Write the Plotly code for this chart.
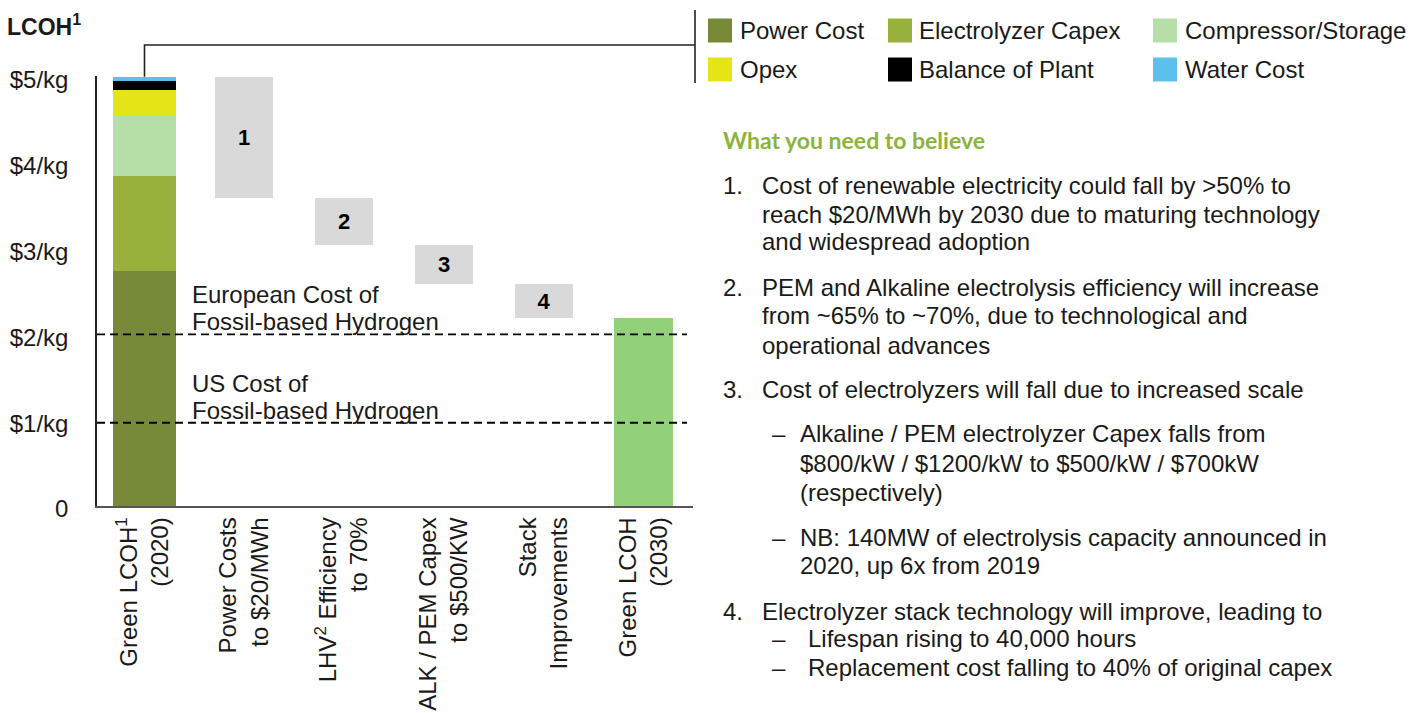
import numpy as np
import plotly.graph_objects as go

# page body adds an 8px margin, so the figure is shrunk by that much
OFF = 8
W, H = 1421 - OFF, 713 - OFF
FONT = "Arial, Liberation Sans, sans-serif"
INK = "#1a1a1a"

# 2020 green LCOH build-up ($/kg)
components = ["Power Cost", "Electrolyzer Capex", "Compressor/Storage",
              "Opex", "Balance of Plant", "Water Cost"]
component_values = [2.74, 1.11, 0.71, 0.29, 0.10, 0.05]
component_colors = ["#778A3A", "#98B13D", "#B6DFA7", "#E4E417", "#000000", "#5BC0EB"]

# waterfall steps towards 2030
step_labels = ["1", "2", "3", "4"]
step_drops = [1.41, 0.55, 0.45, 0.40]

categories = [
    "Green LCOH<sup>1</sup><br>(2020)",
    "Power Costs<br>to $20/MWh",
    "LHV<sup>2</sup> Efficiency<br>to 70%",
    "ALK / PEM Capex<br>to $500/KW",
    "Stack<br>Improvements",
    "Green LCOH<br>(2030)",
]

y_tick_vals = [0, 1, 2, 3, 4, 5]
y_tick_text = ["0", "$1/kg", "$2/kg", "$3/kg", "$4/kg", "$5/kg"]

# fossil hydrogen benchmarks ($/kg)
ref_costs = [2.0, 0.97]
ref_labels = [["European Cost of", "Fossil-based Hydrogen"], ["US Cost of", "Fossil-based Hydrogen"]]

heading = "What you need to believe"
believe_lines = [
    ("num", 185, "1."), ("txt", 185, "Cost of renewable electricity could fall by >50% to"),
    ("txt", 214, "reach $20/MWh by 2030 due to maturing technology"),
    ("txt", 242, "and widespread adoption"),
    ("num", 287, "2."), ("txt", 287, "PEM and Alkaline electrolysis efficiency will increase"),
    ("txt", 315, "from ~65% to ~70%, due to technological and"),
    ("txt", 345, "operational advances"),
    ("num", 389, "3."), ("txt", 389, "Cost of electrolyzers will fall due to increased scale"),
    ("dash", 433, "–"), ("sub", 433, "Alkaline / PEM electrolyzer Capex falls from"),
    ("sub", 463, "$800/kW / $1200/kW to $500/kW / $700kW"),
    ("sub", 492, "(respectively)"),
    ("dash", 537, "–"), ("sub", 537, "NB: 140MW of electrolysis capacity announced in"),
    ("sub", 565, "2020, up 6x from 2019"),
    ("num", 611, "4."), ("txt", 611, "Electrolyzer stack technology will improve, leading to"),
    ("dash", 638, "–"), ("sub2", 638, "Lifespan rising to 40,000 hours"),
    ("dash", 667, "–"), ("sub2", 667, "Replacement cost falling to 40% of original capex"),
]

# plot area in screen pixels
SL, SR, ST, SB = 97, 693, 76, 506
XR = [-0.476, 5.496]
YR = [0, 5.01]


def xp(px):
    return (px - SL) / (SR - SL)


def yp(py):
    return (SB - py) / (SB - ST)


vals = np.array(component_values)
bases = np.concatenate([[0], np.cumsum(vals)[:-1]])
total = vals.sum()
drops = np.array(step_drops)
step_tops = total - np.concatenate([[0], np.cumsum(drops)[:-1]])
step_bases = step_tops - drops
final_value = total - drops.sum()

fig = go.Figure()
for name, v, b, c in zip(components, vals, bases, component_colors):
    fig.add_trace(go.Bar(x=[0], y=[v], base=[b], name=name, marker_color=c,
                         marker_line_width=0, width=0.63, showlegend=False))

fig.add_trace(go.Bar(
    x=[1, 2, 3, 4], y=drops, base=step_bases, text=step_labels,
    textposition="inside", insidetextanchor="middle", textangle=0, constraintext="none",
    textfont=dict(family=FONT, size=22, color="#000000", weight="bold"),
    marker_color="#D9D9D9", marker_line_width=0, width=0.58, showlegend=False,
))
fig.add_trace(go.Bar(x=[5], y=[final_value], base=[0], marker_color="#92D07A",
                     marker_line_width=0, width=0.59, showlegend=False))

shapes = []
annotations = []
for cost, (line1, line2) in zip(ref_costs, ref_labels):
    shapes.append(dict(type="line", xref="paper", x0=0, x1=0.99, yref="y", y0=cost, y1=cost,
                       line=dict(color="#000000", width=1.8, dash="8px,5px"), layer="above"))
    for text, shift in ((line2, -3), (line1, 24)):
        annotations.append(dict(xref="paper", x=xp(190), yref="y", y=cost, yanchor="bottom",
                                xanchor="left", text=text, showarrow=False, yshift=shift,
                                font=dict(family=FONT, size=24, color=INK)))

# connector from the 2020 bar to the legend bracket
x0 = (0 - XR[0]) / (XR[1] - XR[0])
y0 = total / YR[1]
shapes.append(dict(type="path", xref="paper", yref="paper",
                   path=f"M {x0},{y0} V {yp(45)} H {xp(695)}",
                   line=dict(color="#222222", width=1.6)))
shapes.append(dict(type="line", xref="paper", yref="paper", x0=xp(695), x1=xp(695),
                   y0=yp(10), y1=yp(83), line=dict(color="#222222", width=1.6)))

# legend boxes
sq_x = [708, 888, 1153]
tx_x = [740, 919, 1185]
row_y = [30.5, 69.5]
for i, (name, c) in enumerate(zip(components, component_colors)):
    r, col = divmod(i, 3)
    shapes.append(dict(type="rect", xref="paper", yref="paper",
                       x0=xp(sq_x[col]), x1=xp(sq_x[col] + 24),
                       y0=yp(row_y[r] - 12), y1=yp(row_y[r] + 12),
                       fillcolor=c, line_width=0))
    annotations.append(dict(xref="paper", yref="paper", x=xp(tx_x[col] - 2), y=yp(row_y[r]),
                            xanchor="left", yanchor="middle", text=name, showarrow=False,
                            font=dict(family=FONT, size=24, color=INK)))

annotations.append(dict(xref="paper", yref="paper", x=xp(5), y=yp(OFF), xanchor="left",
                        yanchor="top", text="LCOH<sup>1</sup>", showarrow=False,
                        font=dict(family=FONT, size=23, color=INK, weight="bold")))

annotations.append(dict(xref="paper", yref="paper", x=xp(721), y=yp(140), xanchor="left",
                        yanchor="middle", text=heading, showarrow=False,
                        font=dict(family="Lato, Open Sans, sans-serif", size=23,
                                  color="#8DB33A", weight="bold")))
line_x = {"num": 721, "txt": 760, "dash": 770, "sub": 798, "sub2": 806}
for kind, py, text in believe_lines:
    annotations.append(dict(xref="paper", yref="paper", x=xp(line_x[kind]), y=yp(py),
                            xanchor="left", yanchor="middle", text=text, showarrow=False,
                            font=dict(family=FONT, size=24, color=INK)))

fig.update_layout(
    width=W, height=H,
    margin=dict(l=SL - OFF, r=W - (SR - OFF), t=ST - OFF, b=H - (SB - OFF), pad=0,
                autoexpand=False),
    plot_bgcolor="white", paper_bgcolor="white",
    barmode="overlay", bargap=0,
    shapes=shapes, annotations=annotations,
    font=dict(family=FONT, size=24, color=INK),
    xaxis=dict(range=XR, tickvals=list(range(6)), ticktext=categories, tickangle=-90,
               showgrid=False, zeroline=False, showline=True, linecolor="#555555",
               linewidth=1.5, ticks="", automargin=False, tickfont=dict(size=24, color=INK)),
    yaxis=dict(range=YR, tickvals=y_tick_vals, ticktext=y_tick_text, showgrid=False,
               zeroline=False, showline=True, linecolor="#262626", linewidth=1.5,
               ticks="", ticklabelstandoff=22, ticklabelshift=3, automargin=False,
               tickfont=dict(size=24, color=INK)),
)

fig.write_html("out.html")
